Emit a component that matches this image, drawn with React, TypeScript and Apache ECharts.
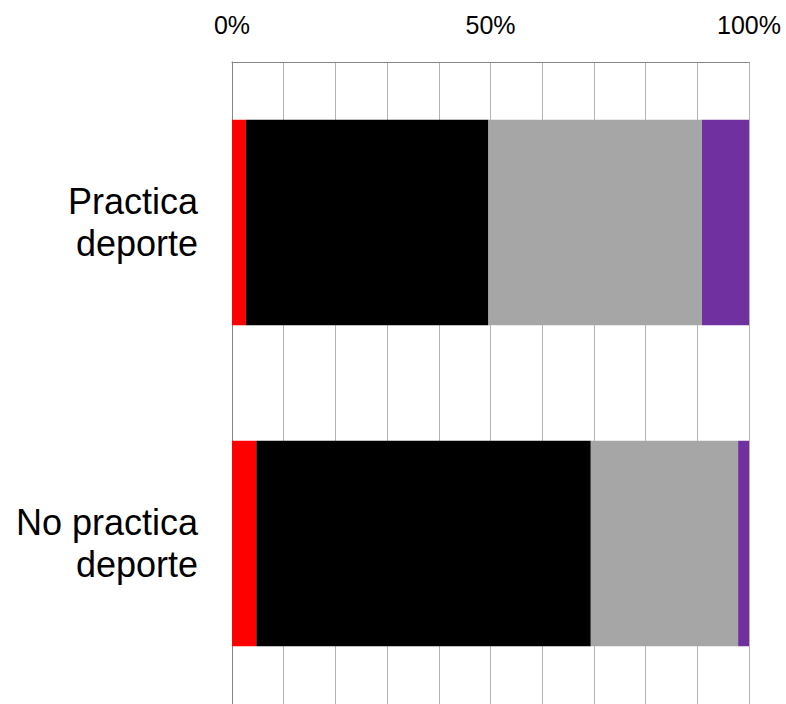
import React, { useEffect, useRef } from "react";
import * as echarts from "echarts";

const categories = ["Practica\ndeporte", "No practica\ndeporte"];
const serieRojo = [2.7, 4.7];
const serieNegro = [46.9, 64.7];
const serieGris = [41.3, 28.5];
const serieMorado = [9.1, 2.1];
const tickLabels = ["0%", "50%", "100%"];

export default function App() {
  const ref = useRef<HTMLDivElement>(null);
  useEffect(() => {
    if (!ref.current) return;
    const chart = echarts.init(ref.current, null, { renderer: "svg" });
    const mk = (name: string, data: number[], color: string) => ({
      name,
      type: "bar",
      stack: "total",
      data,
      barCategoryGap: "36%",
      itemStyle: { color },
    });
    chart.setOption({
      animation: false,
      grid: { left: 232, right: 37, top: 62, bottom: -1 },
      xAxis: {
        type: "value",
        position: "top",
        min: 0,
        max: 100,
        interval: 10,
        axisLine: { show: true, lineStyle: { color: "#868686", width: 1 } },
        axisTick: { show: false },
        splitLine: { show: true, lineStyle: { color: "#b4b4b4", width: 1 } },
        axisLabel: {
          margin: 25,
          color: "#000",
          fontFamily: "Liberation Sans, Arial, sans-serif",
          fontSize: 25,
          formatter: (v: number) => {
            if (v === 0) return tickLabels[0];
            if (v === 50) return tickLabels[1];
            if (v === 100) return tickLabels[2];
            return "";
          },
        },
      },
      yAxis: {
        type: "category",
        inverse: true,
        data: categories,
        axisLine: { show: true, lineStyle: { color: "#868686", width: 1 } },
        axisTick: { show: false },
        axisLabel: {
          margin: 34,
          color: "#000",
          fontFamily: "Liberation Sans, Arial, sans-serif",
          fontSize: 36,
          lineHeight: 42,
          align: "right",
        },
      },
      series: [
        mk("Rojo", serieRojo, "#ff0000"),
        mk("Negro", serieNegro, "#000000"),
        mk("Gris", serieGris, "#a6a6a6"),
        mk("Morado", serieMorado, "#7030a0"),
      ],
    });
    return () => chart.dispose();
  }, []);
  return (
    <div
      ref={ref}
      style={{ position: "fixed", left: 0, top: 0, width: 786, height: 704, background: "#fff" }}
    />
  );
}
